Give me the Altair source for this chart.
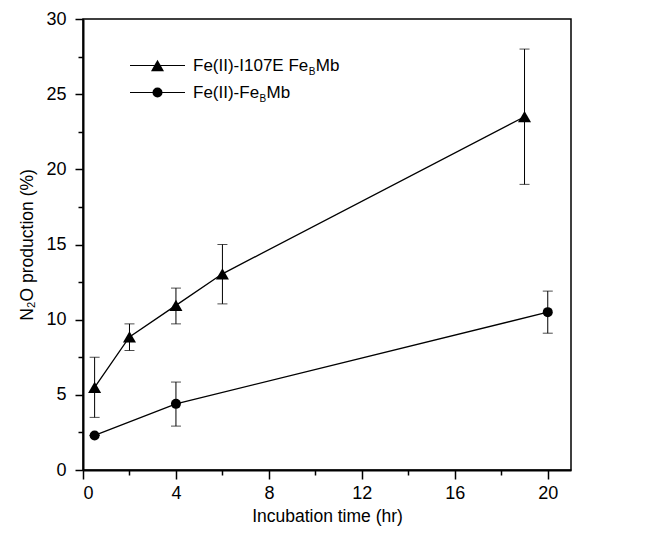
import altair as alt
import pandas as pd

# ---- data ----
tri_x = [0.5, 2, 4, 6, 19]
tri_y = [5.5, 8.85, 10.95, 13.05, 23.5]
tri_lo = [3.5, 7.95, 9.72, 11.05, 19.0]
tri_hi = [7.5, 9.72, 12.1, 15.0, 28.0]

cir_x = [0.5, 4, 20]
cir_y = [2.3, 4.4, 10.5]
cir_lo = [2.3, 2.92, 9.1]
cir_hi = [2.3, 5.85, 11.9]

x_major = [0, 4, 8, 12, 16, 20]
x_minor = [2, 6, 10, 14, 18]
y_major = [0, 5, 10, 15, 20, 25, 30]
y_minor = [2.5, 7.5, 12.5, 17.5, 22.5, 27.5]

legend_heads = ["Fe(II)-I107E Fe", "Fe(II)-Fe"]
legend_sub = ["B", "B"]
legend_tail = ["Mb", "Mb"]
legend_shapes = ["triangle-up", "circle"]

FONT = "Liberation Sans"
TRI_SIZE = 170
CIR_SIZE = 100

tri = pd.DataFrame({"x": tri_x, "y": tri_y, "lo": tri_lo, "hi": tri_hi})
cir = pd.DataFrame({"x": cir_x, "y": cir_y, "lo": cir_lo, "hi": cir_hi})

xs = alt.Scale(domain=[0, 21], nice=False, zero=False)
ys = alt.Scale(domain=[0, 30], nice=False, zero=False)

major_x_axis = alt.Axis(values=x_major, orient="bottom", tickSize=9, title="Incubation time (hr)",
                        titlePadding=5, labelPadding=5, grid=False)
major_y_axis = alt.Axis(values=y_major, orient="left", tickSize=8, title="N₂O production (%)",
                        titlePadding=9, labelPadding=9, grid=False)
minor_x_axis = alt.Axis(values=x_minor, orient="bottom", tickSize=5, labels=False, domain=False,
                        title=None, grid=False)
minor_y_axis = alt.Axis(values=y_minor, orient="left", tickSize=5, labels=False, domain=False,
                        title=None, grid=False)


def series(df, shape, size, with_axes=False):
    X = alt.X("x:Q", scale=xs, axis=major_x_axis if with_axes else None)
    Y = alt.Y("y:Q", scale=ys, axis=major_y_axis if with_axes else None)
    base = alt.Chart(df)
    rule = base.mark_rule(color="black", strokeWidth=1).encode(
        x=alt.X("x:Q", scale=xs, axis=None),
        y=alt.Y("lo:Q", scale=ys, axis=None),
        y2="hi:Q",
    )
    cap_lo = base.mark_tick(color="black", orient="horizontal", size=10, thickness=1).encode(
        x=alt.X("x:Q", scale=xs, axis=None), y=alt.Y("lo:Q", scale=ys, axis=None))
    cap_hi = base.mark_tick(color="black", orient="horizontal", size=10, thickness=1).encode(
        x=alt.X("x:Q", scale=xs, axis=None), y=alt.Y("hi:Q", scale=ys, axis=None))
    line = base.mark_line(color="black", strokeWidth=1.3).encode(x=X, y=Y)
    pts = base.mark_point(shape=shape, filled=True, color="black", opacity=1, size=size).encode(
        x=alt.X("x:Q", scale=xs, axis=None), y=alt.Y("y:Q", scale=ys, axis=None))
    return [rule, cap_lo, cap_hi, line, pts]


layers = series(tri, "triangle-up", TRI_SIZE, with_axes=True) + series(cir, "circle", CIR_SIZE)

# minor ticks layer
minor = alt.Chart(tri).mark_point(opacity=0).encode(
    x=alt.X("x:Q", scale=xs, axis=minor_x_axis),
    y=alt.Y("y:Q", scale=ys, axis=minor_y_axis),
)

# manual legend (inside plot, upper left)
leg = pd.DataFrame({
    "head": legend_heads, "sub": legend_sub, "tail": legend_tail,
    "shape": legend_shapes, "row": [0, 1],
})
leg_layers = []
for i, row in leg.iterrows():
    d = leg[leg["row"] == row["row"]]
    yy = 46.5 + 27 * i
    leg_layers.append(alt.Chart(d).mark_rule(color="black", strokeWidth=1.2).encode(
        x=alt.value(47), x2=alt.value(102), y=alt.value(yy)))
    leg_layers.append(alt.Chart(d).mark_point(
        shape=row["shape"], filled=True, color="black", opacity=1,
        size=TRI_SIZE if row["shape"] == "triangle-up" else CIR_SIZE).encode(
        x=alt.value(74.5), y=alt.value(yy)))
    head_w = 115.3 if i == 0 else 66.1
    tx = 110
    leg_layers.append(alt.Chart(d).mark_text(
        font=FONT, fontSize=17, align="left", baseline="middle", color="black").encode(
        x=alt.value(tx), y=alt.value(yy), text="head:N"))
    leg_layers.append(alt.Chart(d).mark_text(
        font=FONT, fontSize=10, align="left", baseline="middle", color="black").encode(
        x=alt.value(tx + head_w + 0.5), y=alt.value(yy + 6), text="sub:N"))
    leg_layers.append(alt.Chart(d).mark_text(
        font=FONT, fontSize=17, align="left", baseline="middle", color="black").encode(
        x=alt.value(tx + head_w + 7.5), y=alt.value(yy), text="tail:N"))

chart = alt.layer(*layers, minor, *leg_layers).resolve_axis(
    x="independent", y="independent"
).properties(
    width=488, height=451,
    background="white",
    autosize=alt.AutoSizeParams(type="none"),
    padding={"left": 75, "top": 11, "right": 67, "bottom": 64},
).configure_view(
    stroke="black", strokeWidth=1.5
).configure_axis(
    domainColor="black", domainWidth=2, tickColor="black", tickWidth=1.5,
    labelFont=FONT, labelFontSize=18, labelColor="black",
    titleFont=FONT, titleFontSize=17.5, titleFontWeight="normal", titleColor="black",
)

chart.save("out.html", embed_options={"renderer": "svg", "actions": False})
